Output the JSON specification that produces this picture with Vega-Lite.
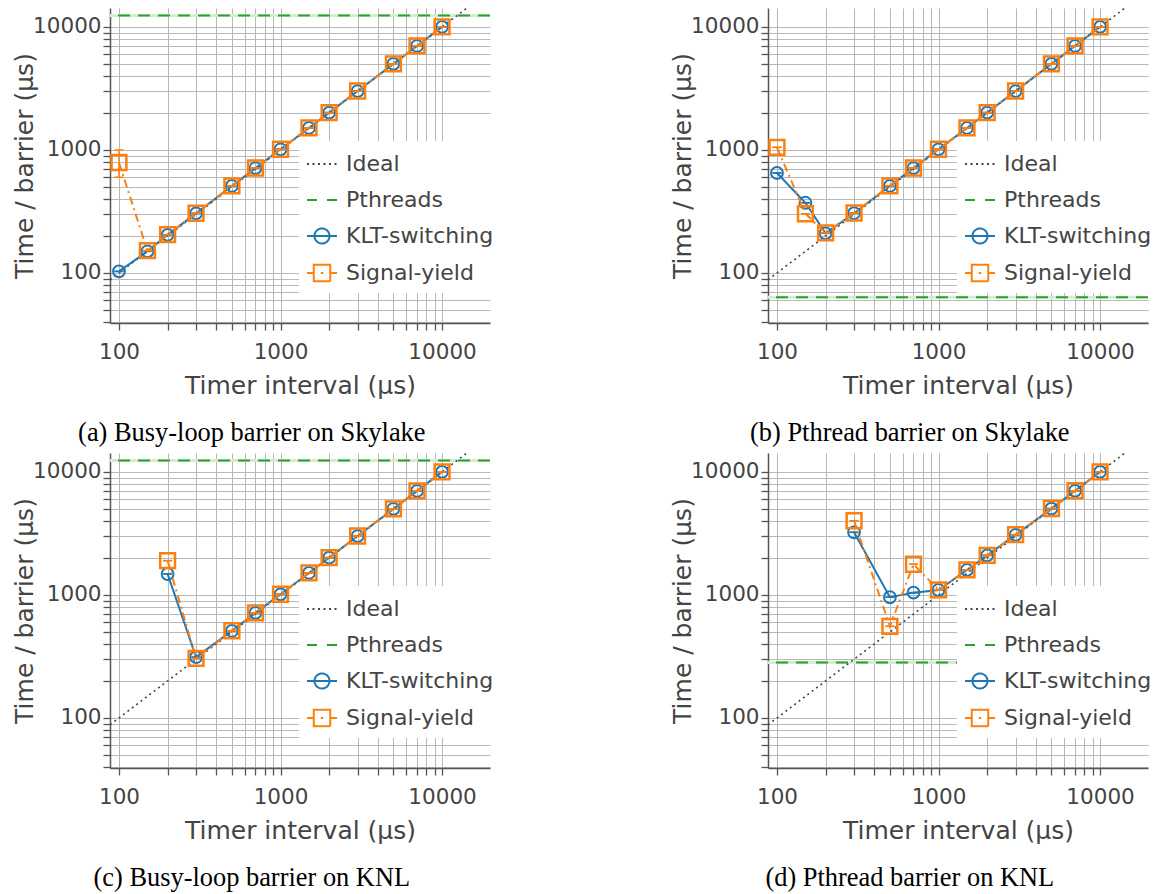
{
"$schema": "https://vega.github.io/schema/vega-lite/v6.json",
"background": "white",
"padding": {"left": 12, "top": 8, "right": 5, "bottom": 5},
"datasets": {
"a": [
{"series":"Ideal","x":88,"y":88},{"series":"Ideal","x":20000,"y":20000},
{"series":"Pthreads","y":12400},
{"series":"KLT-switching","x":100,"y":103,"lo":103,"hi":103},
{"series":"KLT-switching","x":150,"y":150,"lo":150,"hi":150},
{"series":"KLT-switching","x":200,"y":204,"lo":204,"hi":204},
{"series":"KLT-switching","x":300,"y":305,"lo":305,"hi":305},
{"series":"KLT-switching","x":500,"y":510,"lo":510,"hi":510},
{"series":"KLT-switching","x":700,"y":712,"lo":712,"hi":712},
{"series":"KLT-switching","x":1000,"y":1012,"lo":1012,"hi":1012},
{"series":"KLT-switching","x":1500,"y":1510,"lo":1510,"hi":1510},
{"series":"KLT-switching","x":2000,"y":2010,"lo":2010,"hi":2010},
{"series":"KLT-switching","x":3000,"y":3010,"lo":3010,"hi":3010},
{"series":"KLT-switching","x":5000,"y":5010,"lo":5010,"hi":5010},
{"series":"KLT-switching","x":7000,"y":7010,"lo":7010,"hi":7010},
{"series":"KLT-switching","x":10000,"y":10010,"lo":10010,"hi":10010},
{"series":"Signal-yield","x":100,"y":790,"lo":600,"hi":1000},
{"series":"Signal-yield","x":150,"y":152,"lo":152,"hi":152},
{"series":"Signal-yield","x":200,"y":205,"lo":205,"hi":205},
{"series":"Signal-yield","x":300,"y":306,"lo":306,"hi":306},
{"series":"Signal-yield","x":500,"y":511,"lo":511,"hi":511},
{"series":"Signal-yield","x":700,"y":713,"lo":713,"hi":713},
{"series":"Signal-yield","x":1000,"y":1013,"lo":1013,"hi":1013},
{"series":"Signal-yield","x":1500,"y":1512,"lo":1512,"hi":1512},
{"series":"Signal-yield","x":2000,"y":2012,"lo":2012,"hi":2012},
{"series":"Signal-yield","x":3000,"y":3012,"lo":3012,"hi":3012},
{"series":"Signal-yield","x":5000,"y":5012,"lo":5012,"hi":5012},
{"series":"Signal-yield","x":7000,"y":7012,"lo":7012,"hi":7012},
{"series":"Signal-yield","x":10000,"y":10012,"lo":10012,"hi":10012}
],
"b": [
{"series":"Ideal","x":88,"y":88},{"series":"Ideal","x":20000,"y":20000},
{"series":"Pthreads","y":63.5},
{"series":"KLT-switching","x":100,"y":650,"lo":650,"hi":650},
{"series":"KLT-switching","x":150,"y":372,"lo":372,"hi":372},
{"series":"KLT-switching","x":200,"y":210,"lo":210,"hi":210},
{"series":"KLT-switching","x":300,"y":306,"lo":306,"hi":306},
{"series":"KLT-switching","x":500,"y":510,"lo":510,"hi":510},
{"series":"KLT-switching","x":700,"y":712,"lo":712,"hi":712},
{"series":"KLT-switching","x":1000,"y":1012,"lo":1012,"hi":1012},
{"series":"KLT-switching","x":1500,"y":1510,"lo":1510,"hi":1510},
{"series":"KLT-switching","x":2000,"y":2010,"lo":2010,"hi":2010},
{"series":"KLT-switching","x":3000,"y":3010,"lo":3010,"hi":3010},
{"series":"KLT-switching","x":5000,"y":5010,"lo":5010,"hi":5010},
{"series":"KLT-switching","x":7000,"y":7010,"lo":7010,"hi":7010},
{"series":"KLT-switching","x":10000,"y":10010,"lo":10010,"hi":10010},
{"series":"Signal-yield","x":100,"y":1050,"lo":1050,"hi":1050},
{"series":"Signal-yield","x":150,"y":303,"lo":303,"hi":303},
{"series":"Signal-yield","x":200,"y":212,"lo":212,"hi":212},
{"series":"Signal-yield","x":300,"y":307,"lo":307,"hi":307},
{"series":"Signal-yield","x":500,"y":511,"lo":511,"hi":511},
{"series":"Signal-yield","x":700,"y":713,"lo":713,"hi":713},
{"series":"Signal-yield","x":1000,"y":1013,"lo":1013,"hi":1013},
{"series":"Signal-yield","x":1500,"y":1512,"lo":1512,"hi":1512},
{"series":"Signal-yield","x":2000,"y":2012,"lo":2012,"hi":2012},
{"series":"Signal-yield","x":3000,"y":3012,"lo":3012,"hi":3012},
{"series":"Signal-yield","x":5000,"y":5012,"lo":5012,"hi":5012},
{"series":"Signal-yield","x":7000,"y":7012,"lo":7012,"hi":7012},
{"series":"Signal-yield","x":10000,"y":10012,"lo":10012,"hi":10012}
],
"c": [
{"series":"Ideal","x":88,"y":88},{"series":"Ideal","x":20000,"y":20000},
{"series":"Pthreads","y":12400},
{"series":"KLT-switching","x":200,"y":1480,"lo":1480,"hi":1480},
{"series":"KLT-switching","x":300,"y":312,"lo":312,"hi":312},
{"series":"KLT-switching","x":500,"y":510,"lo":510,"hi":510},
{"series":"KLT-switching","x":700,"y":715,"lo":715,"hi":715},
{"series":"KLT-switching","x":1000,"y":1012,"lo":1012,"hi":1012},
{"series":"KLT-switching","x":1500,"y":1510,"lo":1510,"hi":1510},
{"series":"KLT-switching","x":2000,"y":2010,"lo":2010,"hi":2010},
{"series":"KLT-switching","x":3000,"y":3010,"lo":3010,"hi":3010},
{"series":"KLT-switching","x":5000,"y":5010,"lo":5010,"hi":5010},
{"series":"KLT-switching","x":7000,"y":7010,"lo":7010,"hi":7010},
{"series":"KLT-switching","x":10000,"y":10010,"lo":10010,"hi":10010},
{"series":"Signal-yield","x":200,"y":1900,"lo":1900,"hi":1900},
{"series":"Signal-yield","x":300,"y":305,"lo":305,"hi":305},
{"series":"Signal-yield","x":500,"y":512,"lo":512,"hi":512},
{"series":"Signal-yield","x":700,"y":716,"lo":716,"hi":716},
{"series":"Signal-yield","x":1000,"y":1013,"lo":1013,"hi":1013},
{"series":"Signal-yield","x":1500,"y":1512,"lo":1512,"hi":1512},
{"series":"Signal-yield","x":2000,"y":2012,"lo":2012,"hi":2012},
{"series":"Signal-yield","x":3000,"y":3012,"lo":3012,"hi":3012},
{"series":"Signal-yield","x":5000,"y":5012,"lo":5012,"hi":5012},
{"series":"Signal-yield","x":7000,"y":7012,"lo":7012,"hi":7012},
{"series":"Signal-yield","x":10000,"y":10012,"lo":10012,"hi":10012}
],
"d": [
{"series":"Ideal","x":88,"y":88},{"series":"Ideal","x":20000,"y":20000},
{"series":"Pthreads","y":282},
{"series":"KLT-switching","x":300,"y":3230,"lo":3230,"hi":3230},
{"series":"KLT-switching","x":500,"y":958,"lo":958,"hi":958},
{"series":"KLT-switching","x":700,"y":1044,"lo":1044,"hi":1044},
{"series":"KLT-switching","x":1000,"y":1097,"lo":1097,"hi":1097},
{"series":"KLT-switching","x":1500,"y":1595,"lo":1595,"hi":1595},
{"series":"KLT-switching","x":2000,"y":2095,"lo":2095,"hi":2095},
{"series":"KLT-switching","x":3000,"y":3080,"lo":3080,"hi":3080},
{"series":"KLT-switching","x":5000,"y":5030,"lo":5030,"hi":5030},
{"series":"KLT-switching","x":7000,"y":7020,"lo":7020,"hi":7020},
{"series":"KLT-switching","x":10000,"y":10010,"lo":10010,"hi":10010},
{"series":"Signal-yield","x":300,"y":4010,"lo":4010,"hi":4010},
{"series":"Signal-yield","x":500,"y":556,"lo":556,"hi":556},
{"series":"Signal-yield","x":700,"y":1776,"lo":1776,"hi":1776},
{"series":"Signal-yield","x":1000,"y":1100,"lo":1100,"hi":1100},
{"series":"Signal-yield","x":1500,"y":1600,"lo":1600,"hi":1600},
{"series":"Signal-yield","x":2000,"y":2100,"lo":2100,"hi":2100},
{"series":"Signal-yield","x":3000,"y":3090,"lo":3090,"hi":3090},
{"series":"Signal-yield","x":5000,"y":5040,"lo":5040,"hi":5040},
{"series":"Signal-yield","x":7000,"y":7030,"lo":7030,"hi":7030},
{"series":"Signal-yield","x":10000,"y":10020,"lo":10020,"hi":10020}
]
},
"columns": 2,
"spacing": {"row": 130, "column": 278},
"bounds": "flush",
"resolve": {"scale": {"color": "independent"}, "legend": {"color": "independent"}},
"concat": [
{"width":380,"height":315,"data":{"name":"a"},"title":{"text":"(a) Busy-loop barrier on Skylake"},
"encoding":{"color":{"field":"series","type":"nominal","scale":{"domain":["Ideal","Pthreads","KLT-switching","Signal-yield"],"range":["#444444","#2ca02c","#1f77b4","#ff7f0e"]},
"legend":{"title":null,"orient":"none","legendX":189,"legendY":133,"symbolSize":900,
"encode":{"symbols":{"update":{
"shape":[{"test":"datum.value === 'KLT-switching'","value":"M-1,0H1M0.5,0A0.5,0.5,0,1,1,-0.5,0A0.5,0.5,0,1,1,0.5,0"},{"test":"datum.value === 'Signal-yield'","value":"M-1,0H-0.55M0.55,0H1M-0.55,-0.55H0.55V0.55H-0.55ZM-0.08,0H0.08"},{"value":"M-1,0H1"}],
"strokeDash":[{"test":"datum.value === 'Ideal'","value":[2,3.5]},{"test":"datum.value === 'Pthreads'","value":[10,10]},{"value":[1,0]}],
"fill":{"value":"transparent"},"strokeWidth":{"value":2},"opacity":{"value":1}}}}}}},
"layer":[
{"transform":[{"filter":"datum.series === 'Pthreads'"}],"mark":{"type":"rule","strokeWidth":3},"encoding":{"y":{"field":"y","type":"quantitative","scale":{"type":"log","domain":[39.2,14250],"nice":false},"title":"Time / barrier (µs)"},"color":{"value":"#d4ebd4"}}},
{"transform":[{"filter":"datum.series === 'Pthreads'"}],"mark":{"type":"rule","strokeWidth":2,"strokeDash":[12,8]},"encoding":{"y":{"field":"y","type":"quantitative","scale":{"type":"log","domain":[39.2,14250],"nice":false},"title":"Time / barrier (µs)"}}},
{"transform":[{"filter":"datum.series === 'Ideal'"}],"mark":{"type":"line","strokeWidth":1.6,"strokeDash":[2,3.5],"clip":true},"encoding":{
"x":{"field":"x","type":"quantitative","scale":{"type":"log","domain":[88,19800],"nice":false},"title":"Timer interval (µs)","axis":{"values":[100,200,300,400,500,600,700,800,900,1000,2000,3000,4000,5000,6000,7000,8000,9000,10000],"labelExpr":"datum.value == 100 || datum.value == 1000 || datum.value == 10000 ? format(datum.value, 'd') : ''","labelPadding":11,"titlePadding":11}},
"y":{"field":"y","type":"quantitative","scale":{"type":"log","domain":[39.2,14250],"nice":false},"title":"Time / barrier (µs)","axis":{"values":[40,50,60,70,80,90,100,200,300,400,500,600,700,800,900,1000,2000,3000,4000,5000,6000,7000,8000,9000,10000],"labelExpr":"datum.value == 100 || datum.value == 1000 || datum.value == 10000 ? format(datum.value, 'd') : ''","labelPadding":2,"titlePadding":-5}}}},
{"transform":[{"filter":"datum.series === 'KLT-switching'"}],"mark":{"type":"line","strokeWidth":2},"encoding":{"x":{"field":"x","type":"quantitative","scale":{"type":"log","domain":[88,19800],"nice":false},"title":"Timer interval (µs)"},"y":{"field":"y","type":"quantitative","scale":{"type":"log","domain":[39.2,14250],"nice":false},"title":"Time / barrier (µs)"}}},
{"transform":[{"filter":"datum.series === 'KLT-switching'"}],"mark":{"type":"rule","strokeWidth":1.5},"encoding":{"x":{"field":"x","type":"quantitative","scale":{"type":"log","domain":[88,19800],"nice":false},"title":"Timer interval (µs)"},"y":{"field":"lo","type":"quantitative","scale":{"type":"log","domain":[39.2,14250],"nice":false},"title":"Time / barrier (µs)"},"y2":{"field":"hi"}}},
{"transform":[{"filter":"datum.series === 'KLT-switching'"}],"mark":{"type":"point","shape":"stroke","filled":false,"size":81,"strokeWidth":1.5,"opacity":1},"encoding":{"x":{"field":"x","type":"quantitative","scale":{"type":"log","domain":[88,19800],"nice":false},"title":"Timer interval (µs)"},"y":{"field":"lo","type":"quantitative","scale":{"type":"log","domain":[39.2,14250],"nice":false},"title":"Time / barrier (µs)"}}},
{"transform":[{"filter":"datum.series === 'KLT-switching'"}],"mark":{"type":"point","shape":"stroke","filled":false,"size":81,"strokeWidth":1.5,"opacity":1},"encoding":{"x":{"field":"x","type":"quantitative","scale":{"type":"log","domain":[88,19800],"nice":false},"title":"Timer interval (µs)"},"y":{"field":"hi","type":"quantitative","scale":{"type":"log","domain":[39.2,14250],"nice":false},"title":"Time / barrier (µs)"}}},
{"transform":[{"filter":"datum.series === 'KLT-switching'"}],"mark":{"type":"point","shape":"circle","filled":false,"size":140,"strokeWidth":2,"opacity":1},"encoding":{"x":{"field":"x","type":"quantitative","scale":{"type":"log","domain":[88,19800],"nice":false},"title":"Timer interval (µs)"},"y":{"field":"y","type":"quantitative","scale":{"type":"log","domain":[39.2,14250],"nice":false},"title":"Time / barrier (µs)"}}},
{"transform":[{"filter":"datum.series === 'Signal-yield'"}],"mark":{"type":"line","strokeWidth":2,"strokeDash":[8,4,2,4]},"encoding":{"x":{"field":"x","type":"quantitative","scale":{"type":"log","domain":[88,19800],"nice":false},"title":"Timer interval (µs)"},"y":{"field":"y","type":"quantitative","scale":{"type":"log","domain":[39.2,14250],"nice":false},"title":"Time / barrier (µs)"}}},
{"transform":[{"filter":"datum.series === 'Signal-yield'"}],"mark":{"type":"rule","strokeWidth":1.5},"encoding":{"x":{"field":"x","type":"quantitative","scale":{"type":"log","domain":[88,19800],"nice":false},"title":"Timer interval (µs)"},"y":{"field":"lo","type":"quantitative","scale":{"type":"log","domain":[39.2,14250],"nice":false},"title":"Time / barrier (µs)"},"y2":{"field":"hi"}}},
{"transform":[{"filter":"datum.series === 'Signal-yield'"}],"mark":{"type":"point","shape":"stroke","filled":false,"size":81,"strokeWidth":1.5,"opacity":1},"encoding":{"x":{"field":"x","type":"quantitative","scale":{"type":"log","domain":[88,19800],"nice":false},"title":"Timer interval (µs)"},"y":{"field":"lo","type":"quantitative","scale":{"type":"log","domain":[39.2,14250],"nice":false},"title":"Time / barrier (µs)"}}},
{"transform":[{"filter":"datum.series === 'Signal-yield'"}],"mark":{"type":"point","shape":"stroke","filled":false,"size":81,"strokeWidth":1.5,"opacity":1},"encoding":{"x":{"field":"x","type":"quantitative","scale":{"type":"log","domain":[88,19800],"nice":false},"title":"Timer interval (µs)"},"y":{"field":"hi","type":"quantitative","scale":{"type":"log","domain":[39.2,14250],"nice":false},"title":"Time / barrier (µs)"}}},
{"transform":[{"filter":"datum.series === 'Signal-yield'"}],"mark":{"type":"point","shape":"square","filled":false,"size":220,"strokeWidth":2.5,"opacity":1},"encoding":{"x":{"field":"x","type":"quantitative","scale":{"type":"log","domain":[88,19800],"nice":false},"title":"Timer interval (µs)"},"y":{"field":"y","type":"quantitative","scale":{"type":"log","domain":[39.2,14250],"nice":false},"title":"Time / barrier (µs)"}}}
]},
{"width":380,"height":315,"data":{"name":"b"},"title":{"text":"(b) Pthread barrier on Skylake"},
"encoding":{"color":{"field":"series","type":"nominal","scale":{"domain":["Ideal","Pthreads","KLT-switching","Signal-yield"],"range":["#444444","#2ca02c","#1f77b4","#ff7f0e"]},
"legend":{"title":null,"orient":"none","legendX":189,"legendY":133,"symbolSize":900,
"encode":{"symbols":{"update":{
"shape":[{"test":"datum.value === 'KLT-switching'","value":"M-1,0H1M0.5,0A0.5,0.5,0,1,1,-0.5,0A0.5,0.5,0,1,1,0.5,0"},{"test":"datum.value === 'Signal-yield'","value":"M-1,0H-0.55M0.55,0H1M-0.55,-0.55H0.55V0.55H-0.55ZM-0.08,0H0.08"},{"value":"M-1,0H1"}],
"strokeDash":[{"test":"datum.value === 'Ideal'","value":[2,3.5]},{"test":"datum.value === 'Pthreads'","value":[10,10]},{"value":[1,0]}],
"fill":{"value":"transparent"},"strokeWidth":{"value":2},"opacity":{"value":1}}}}}}},
"layer":[
{"transform":[{"filter":"datum.series === 'Pthreads'"}],"mark":{"type":"rule","strokeWidth":3},"encoding":{"y":{"field":"y","type":"quantitative","scale":{"type":"log","domain":[39.2,14250],"nice":false},"title":"Time / barrier (µs)"},"color":{"value":"#d4ebd4"}}},
{"transform":[{"filter":"datum.series === 'Pthreads'"}],"mark":{"type":"rule","strokeWidth":2,"strokeDash":[12,8]},"encoding":{"y":{"field":"y","type":"quantitative","scale":{"type":"log","domain":[39.2,14250],"nice":false},"title":"Time / barrier (µs)"}}},
{"transform":[{"filter":"datum.series === 'Ideal'"}],"mark":{"type":"line","strokeWidth":1.6,"strokeDash":[2,3.5],"clip":true},"encoding":{
"x":{"field":"x","type":"quantitative","scale":{"type":"log","domain":[88,19800],"nice":false},"title":"Timer interval (µs)","axis":{"values":[100,200,300,400,500,600,700,800,900,1000,2000,3000,4000,5000,6000,7000,8000,9000,10000],"labelExpr":"datum.value == 100 || datum.value == 1000 || datum.value == 10000 ? format(datum.value, 'd') : ''","labelPadding":11,"titlePadding":11}},
"y":{"field":"y","type":"quantitative","scale":{"type":"log","domain":[39.2,14250],"nice":false},"title":"Time / barrier (µs)","axis":{"values":[40,50,60,70,80,90,100,200,300,400,500,600,700,800,900,1000,2000,3000,4000,5000,6000,7000,8000,9000,10000],"labelExpr":"datum.value == 100 || datum.value == 1000 || datum.value == 10000 ? format(datum.value, 'd') : ''","labelPadding":2,"titlePadding":-5}}}},
{"transform":[{"filter":"datum.series === 'KLT-switching'"}],"mark":{"type":"line","strokeWidth":2},"encoding":{"x":{"field":"x","type":"quantitative","scale":{"type":"log","domain":[88,19800],"nice":false},"title":"Timer interval (µs)"},"y":{"field":"y","type":"quantitative","scale":{"type":"log","domain":[39.2,14250],"nice":false},"title":"Time / barrier (µs)"}}},
{"transform":[{"filter":"datum.series === 'KLT-switching'"}],"mark":{"type":"rule","strokeWidth":1.5},"encoding":{"x":{"field":"x","type":"quantitative","scale":{"type":"log","domain":[88,19800],"nice":false},"title":"Timer interval (µs)"},"y":{"field":"lo","type":"quantitative","scale":{"type":"log","domain":[39.2,14250],"nice":false},"title":"Time / barrier (µs)"},"y2":{"field":"hi"}}},
{"transform":[{"filter":"datum.series === 'KLT-switching'"}],"mark":{"type":"point","shape":"stroke","filled":false,"size":81,"strokeWidth":1.5,"opacity":1},"encoding":{"x":{"field":"x","type":"quantitative","scale":{"type":"log","domain":[88,19800],"nice":false},"title":"Timer interval (µs)"},"y":{"field":"lo","type":"quantitative","scale":{"type":"log","domain":[39.2,14250],"nice":false},"title":"Time / barrier (µs)"}}},
{"transform":[{"filter":"datum.series === 'KLT-switching'"}],"mark":{"type":"point","shape":"stroke","filled":false,"size":81,"strokeWidth":1.5,"opacity":1},"encoding":{"x":{"field":"x","type":"quantitative","scale":{"type":"log","domain":[88,19800],"nice":false},"title":"Timer interval (µs)"},"y":{"field":"hi","type":"quantitative","scale":{"type":"log","domain":[39.2,14250],"nice":false},"title":"Time / barrier (µs)"}}},
{"transform":[{"filter":"datum.series === 'KLT-switching'"}],"mark":{"type":"point","shape":"circle","filled":false,"size":140,"strokeWidth":2,"opacity":1},"encoding":{"x":{"field":"x","type":"quantitative","scale":{"type":"log","domain":[88,19800],"nice":false},"title":"Timer interval (µs)"},"y":{"field":"y","type":"quantitative","scale":{"type":"log","domain":[39.2,14250],"nice":false},"title":"Time / barrier (µs)"}}},
{"transform":[{"filter":"datum.series === 'Signal-yield'"}],"mark":{"type":"line","strokeWidth":2,"strokeDash":[8,4,2,4]},"encoding":{"x":{"field":"x","type":"quantitative","scale":{"type":"log","domain":[88,19800],"nice":false},"title":"Timer interval (µs)"},"y":{"field":"y","type":"quantitative","scale":{"type":"log","domain":[39.2,14250],"nice":false},"title":"Time / barrier (µs)"}}},
{"transform":[{"filter":"datum.series === 'Signal-yield'"}],"mark":{"type":"rule","strokeWidth":1.5},"encoding":{"x":{"field":"x","type":"quantitative","scale":{"type":"log","domain":[88,19800],"nice":false},"title":"Timer interval (µs)"},"y":{"field":"lo","type":"quantitative","scale":{"type":"log","domain":[39.2,14250],"nice":false},"title":"Time / barrier (µs)"},"y2":{"field":"hi"}}},
{"transform":[{"filter":"datum.series === 'Signal-yield'"}],"mark":{"type":"point","shape":"stroke","filled":false,"size":81,"strokeWidth":1.5,"opacity":1},"encoding":{"x":{"field":"x","type":"quantitative","scale":{"type":"log","domain":[88,19800],"nice":false},"title":"Timer interval (µs)"},"y":{"field":"lo","type":"quantitative","scale":{"type":"log","domain":[39.2,14250],"nice":false},"title":"Time / barrier (µs)"}}},
{"transform":[{"filter":"datum.series === 'Signal-yield'"}],"mark":{"type":"point","shape":"stroke","filled":false,"size":81,"strokeWidth":1.5,"opacity":1},"encoding":{"x":{"field":"x","type":"quantitative","scale":{"type":"log","domain":[88,19800],"nice":false},"title":"Timer interval (µs)"},"y":{"field":"hi","type":"quantitative","scale":{"type":"log","domain":[39.2,14250],"nice":false},"title":"Time / barrier (µs)"}}},
{"transform":[{"filter":"datum.series === 'Signal-yield'"}],"mark":{"type":"point","shape":"square","filled":false,"size":220,"strokeWidth":2.5,"opacity":1},"encoding":{"x":{"field":"x","type":"quantitative","scale":{"type":"log","domain":[88,19800],"nice":false},"title":"Timer interval (µs)"},"y":{"field":"y","type":"quantitative","scale":{"type":"log","domain":[39.2,14250],"nice":false},"title":"Time / barrier (µs)"}}}
]},
{"width":380,"height":315,"data":{"name":"c"},"title":{"text":"(c) Busy-loop barrier on KNL"},
"encoding":{"color":{"field":"series","type":"nominal","scale":{"domain":["Ideal","Pthreads","KLT-switching","Signal-yield"],"range":["#444444","#2ca02c","#1f77b4","#ff7f0e"]},
"legend":{"title":null,"orient":"none","legendX":189,"legendY":133,"symbolSize":900,
"encode":{"symbols":{"update":{
"shape":[{"test":"datum.value === 'KLT-switching'","value":"M-1,0H1M0.5,0A0.5,0.5,0,1,1,-0.5,0A0.5,0.5,0,1,1,0.5,0"},{"test":"datum.value === 'Signal-yield'","value":"M-1,0H-0.55M0.55,0H1M-0.55,-0.55H0.55V0.55H-0.55ZM-0.08,0H0.08"},{"value":"M-1,0H1"}],
"strokeDash":[{"test":"datum.value === 'Ideal'","value":[2,3.5]},{"test":"datum.value === 'Pthreads'","value":[10,10]},{"value":[1,0]}],
"fill":{"value":"transparent"},"strokeWidth":{"value":2},"opacity":{"value":1}}}}}}},
"layer":[
{"transform":[{"filter":"datum.series === 'Pthreads'"}],"mark":{"type":"rule","strokeWidth":3},"encoding":{"y":{"field":"y","type":"quantitative","scale":{"type":"log","domain":[39.2,14250],"nice":false},"title":"Time / barrier (µs)"},"color":{"value":"#d4ebd4"}}},
{"transform":[{"filter":"datum.series === 'Pthreads'"}],"mark":{"type":"rule","strokeWidth":2,"strokeDash":[12,8]},"encoding":{"y":{"field":"y","type":"quantitative","scale":{"type":"log","domain":[39.2,14250],"nice":false},"title":"Time / barrier (µs)"}}},
{"transform":[{"filter":"datum.series === 'Ideal'"}],"mark":{"type":"line","strokeWidth":1.6,"strokeDash":[2,3.5],"clip":true},"encoding":{
"x":{"field":"x","type":"quantitative","scale":{"type":"log","domain":[88,19800],"nice":false},"title":"Timer interval (µs)","axis":{"values":[100,200,300,400,500,600,700,800,900,1000,2000,3000,4000,5000,6000,7000,8000,9000,10000],"labelExpr":"datum.value == 100 || datum.value == 1000 || datum.value == 10000 ? format(datum.value, 'd') : ''","labelPadding":11,"titlePadding":11}},
"y":{"field":"y","type":"quantitative","scale":{"type":"log","domain":[39.2,14250],"nice":false},"title":"Time / barrier (µs)","axis":{"values":[40,50,60,70,80,90,100,200,300,400,500,600,700,800,900,1000,2000,3000,4000,5000,6000,7000,8000,9000,10000],"labelExpr":"datum.value == 100 || datum.value == 1000 || datum.value == 10000 ? format(datum.value, 'd') : ''","labelPadding":2,"titlePadding":-5}}}},
{"transform":[{"filter":"datum.series === 'KLT-switching'"}],"mark":{"type":"line","strokeWidth":2},"encoding":{"x":{"field":"x","type":"quantitative","scale":{"type":"log","domain":[88,19800],"nice":false},"title":"Timer interval (µs)"},"y":{"field":"y","type":"quantitative","scale":{"type":"log","domain":[39.2,14250],"nice":false},"title":"Time / barrier (µs)"}}},
{"transform":[{"filter":"datum.series === 'KLT-switching'"}],"mark":{"type":"rule","strokeWidth":1.5},"encoding":{"x":{"field":"x","type":"quantitative","scale":{"type":"log","domain":[88,19800],"nice":false},"title":"Timer interval (µs)"},"y":{"field":"lo","type":"quantitative","scale":{"type":"log","domain":[39.2,14250],"nice":false},"title":"Time / barrier (µs)"},"y2":{"field":"hi"}}},
{"transform":[{"filter":"datum.series === 'KLT-switching'"}],"mark":{"type":"point","shape":"stroke","filled":false,"size":81,"strokeWidth":1.5,"opacity":1},"encoding":{"x":{"field":"x","type":"quantitative","scale":{"type":"log","domain":[88,19800],"nice":false},"title":"Timer interval (µs)"},"y":{"field":"lo","type":"quantitative","scale":{"type":"log","domain":[39.2,14250],"nice":false},"title":"Time / barrier (µs)"}}},
{"transform":[{"filter":"datum.series === 'KLT-switching'"}],"mark":{"type":"point","shape":"stroke","filled":false,"size":81,"strokeWidth":1.5,"opacity":1},"encoding":{"x":{"field":"x","type":"quantitative","scale":{"type":"log","domain":[88,19800],"nice":false},"title":"Timer interval (µs)"},"y":{"field":"hi","type":"quantitative","scale":{"type":"log","domain":[39.2,14250],"nice":false},"title":"Time / barrier (µs)"}}},
{"transform":[{"filter":"datum.series === 'KLT-switching'"}],"mark":{"type":"point","shape":"circle","filled":false,"size":140,"strokeWidth":2,"opacity":1},"encoding":{"x":{"field":"x","type":"quantitative","scale":{"type":"log","domain":[88,19800],"nice":false},"title":"Timer interval (µs)"},"y":{"field":"y","type":"quantitative","scale":{"type":"log","domain":[39.2,14250],"nice":false},"title":"Time / barrier (µs)"}}},
{"transform":[{"filter":"datum.series === 'Signal-yield'"}],"mark":{"type":"line","strokeWidth":2,"strokeDash":[8,4,2,4]},"encoding":{"x":{"field":"x","type":"quantitative","scale":{"type":"log","domain":[88,19800],"nice":false},"title":"Timer interval (µs)"},"y":{"field":"y","type":"quantitative","scale":{"type":"log","domain":[39.2,14250],"nice":false},"title":"Time / barrier (µs)"}}},
{"transform":[{"filter":"datum.series === 'Signal-yield'"}],"mark":{"type":"rule","strokeWidth":1.5},"encoding":{"x":{"field":"x","type":"quantitative","scale":{"type":"log","domain":[88,19800],"nice":false},"title":"Timer interval (µs)"},"y":{"field":"lo","type":"quantitative","scale":{"type":"log","domain":[39.2,14250],"nice":false},"title":"Time / barrier (µs)"},"y2":{"field":"hi"}}},
{"transform":[{"filter":"datum.series === 'Signal-yield'"}],"mark":{"type":"point","shape":"stroke","filled":false,"size":81,"strokeWidth":1.5,"opacity":1},"encoding":{"x":{"field":"x","type":"quantitative","scale":{"type":"log","domain":[88,19800],"nice":false},"title":"Timer interval (µs)"},"y":{"field":"lo","type":"quantitative","scale":{"type":"log","domain":[39.2,14250],"nice":false},"title":"Time / barrier (µs)"}}},
{"transform":[{"filter":"datum.series === 'Signal-yield'"}],"mark":{"type":"point","shape":"stroke","filled":false,"size":81,"strokeWidth":1.5,"opacity":1},"encoding":{"x":{"field":"x","type":"quantitative","scale":{"type":"log","domain":[88,19800],"nice":false},"title":"Timer interval (µs)"},"y":{"field":"hi","type":"quantitative","scale":{"type":"log","domain":[39.2,14250],"nice":false},"title":"Time / barrier (µs)"}}},
{"transform":[{"filter":"datum.series === 'Signal-yield'"}],"mark":{"type":"point","shape":"square","filled":false,"size":220,"strokeWidth":2.5,"opacity":1},"encoding":{"x":{"field":"x","type":"quantitative","scale":{"type":"log","domain":[88,19800],"nice":false},"title":"Timer interval (µs)"},"y":{"field":"y","type":"quantitative","scale":{"type":"log","domain":[39.2,14250],"nice":false},"title":"Time / barrier (µs)"}}}
]},
{"width":380,"height":315,"data":{"name":"d"},"title":{"text":"(d) Pthread barrier on KNL"},
"encoding":{"color":{"field":"series","type":"nominal","scale":{"domain":["Ideal","Pthreads","KLT-switching","Signal-yield"],"range":["#444444","#2ca02c","#1f77b4","#ff7f0e"]},
"legend":{"title":null,"orient":"none","legendX":189,"legendY":133,"symbolSize":900,
"encode":{"symbols":{"update":{
"shape":[{"test":"datum.value === 'KLT-switching'","value":"M-1,0H1M0.5,0A0.5,0.5,0,1,1,-0.5,0A0.5,0.5,0,1,1,0.5,0"},{"test":"datum.value === 'Signal-yield'","value":"M-1,0H-0.55M0.55,0H1M-0.55,-0.55H0.55V0.55H-0.55ZM-0.08,0H0.08"},{"value":"M-1,0H1"}],
"strokeDash":[{"test":"datum.value === 'Ideal'","value":[2,3.5]},{"test":"datum.value === 'Pthreads'","value":[10,10]},{"value":[1,0]}],
"fill":{"value":"transparent"},"strokeWidth":{"value":2},"opacity":{"value":1}}}}}}},
"layer":[
{"transform":[{"filter":"datum.series === 'Pthreads'"}],"mark":{"type":"rule","strokeWidth":3},"encoding":{"y":{"field":"y","type":"quantitative","scale":{"type":"log","domain":[39.2,14250],"nice":false},"title":"Time / barrier (µs)"},"color":{"value":"#d4ebd4"}}},
{"transform":[{"filter":"datum.series === 'Pthreads'"}],"mark":{"type":"rule","strokeWidth":2,"strokeDash":[12,8]},"encoding":{"y":{"field":"y","type":"quantitative","scale":{"type":"log","domain":[39.2,14250],"nice":false},"title":"Time / barrier (µs)"}}},
{"transform":[{"filter":"datum.series === 'Ideal'"}],"mark":{"type":"line","strokeWidth":1.6,"strokeDash":[2,3.5],"clip":true},"encoding":{
"x":{"field":"x","type":"quantitative","scale":{"type":"log","domain":[88,19800],"nice":false},"title":"Timer interval (µs)","axis":{"values":[100,200,300,400,500,600,700,800,900,1000,2000,3000,4000,5000,6000,7000,8000,9000,10000],"labelExpr":"datum.value == 100 || datum.value == 1000 || datum.value == 10000 ? format(datum.value, 'd') : ''","labelPadding":11,"titlePadding":11}},
"y":{"field":"y","type":"quantitative","scale":{"type":"log","domain":[39.2,14250],"nice":false},"title":"Time / barrier (µs)","axis":{"values":[40,50,60,70,80,90,100,200,300,400,500,600,700,800,900,1000,2000,3000,4000,5000,6000,7000,8000,9000,10000],"labelExpr":"datum.value == 100 || datum.value == 1000 || datum.value == 10000 ? format(datum.value, 'd') : ''","labelPadding":2,"titlePadding":-5}}}},
{"transform":[{"filter":"datum.series === 'KLT-switching'"}],"mark":{"type":"line","strokeWidth":2},"encoding":{"x":{"field":"x","type":"quantitative","scale":{"type":"log","domain":[88,19800],"nice":false},"title":"Timer interval (µs)"},"y":{"field":"y","type":"quantitative","scale":{"type":"log","domain":[39.2,14250],"nice":false},"title":"Time / barrier (µs)"}}},
{"transform":[{"filter":"datum.series === 'KLT-switching'"}],"mark":{"type":"rule","strokeWidth":1.5},"encoding":{"x":{"field":"x","type":"quantitative","scale":{"type":"log","domain":[88,19800],"nice":false},"title":"Timer interval (µs)"},"y":{"field":"lo","type":"quantitative","scale":{"type":"log","domain":[39.2,14250],"nice":false},"title":"Time / barrier (µs)"},"y2":{"field":"hi"}}},
{"transform":[{"filter":"datum.series === 'KLT-switching'"}],"mark":{"type":"point","shape":"stroke","filled":false,"size":81,"strokeWidth":1.5,"opacity":1},"encoding":{"x":{"field":"x","type":"quantitative","scale":{"type":"log","domain":[88,19800],"nice":false},"title":"Timer interval (µs)"},"y":{"field":"lo","type":"quantitative","scale":{"type":"log","domain":[39.2,14250],"nice":false},"title":"Time / barrier (µs)"}}},
{"transform":[{"filter":"datum.series === 'KLT-switching'"}],"mark":{"type":"point","shape":"stroke","filled":false,"size":81,"strokeWidth":1.5,"opacity":1},"encoding":{"x":{"field":"x","type":"quantitative","scale":{"type":"log","domain":[88,19800],"nice":false},"title":"Timer interval (µs)"},"y":{"field":"hi","type":"quantitative","scale":{"type":"log","domain":[39.2,14250],"nice":false},"title":"Time / barrier (µs)"}}},
{"transform":[{"filter":"datum.series === 'KLT-switching'"}],"mark":{"type":"point","shape":"circle","filled":false,"size":140,"strokeWidth":2,"opacity":1},"encoding":{"x":{"field":"x","type":"quantitative","scale":{"type":"log","domain":[88,19800],"nice":false},"title":"Timer interval (µs)"},"y":{"field":"y","type":"quantitative","scale":{"type":"log","domain":[39.2,14250],"nice":false},"title":"Time / barrier (µs)"}}},
{"transform":[{"filter":"datum.series === 'Signal-yield'"}],"mark":{"type":"line","strokeWidth":2,"strokeDash":[8,4,2,4]},"encoding":{"x":{"field":"x","type":"quantitative","scale":{"type":"log","domain":[88,19800],"nice":false},"title":"Timer interval (µs)"},"y":{"field":"y","type":"quantitative","scale":{"type":"log","domain":[39.2,14250],"nice":false},"title":"Time / barrier (µs)"}}},
{"transform":[{"filter":"datum.series === 'Signal-yield'"}],"mark":{"type":"rule","strokeWidth":1.5},"encoding":{"x":{"field":"x","type":"quantitative","scale":{"type":"log","domain":[88,19800],"nice":false},"title":"Timer interval (µs)"},"y":{"field":"lo","type":"quantitative","scale":{"type":"log","domain":[39.2,14250],"nice":false},"title":"Time / barrier (µs)"},"y2":{"field":"hi"}}},
{"transform":[{"filter":"datum.series === 'Signal-yield'"}],"mark":{"type":"point","shape":"stroke","filled":false,"size":81,"strokeWidth":1.5,"opacity":1},"encoding":{"x":{"field":"x","type":"quantitative","scale":{"type":"log","domain":[88,19800],"nice":false},"title":"Timer interval (µs)"},"y":{"field":"lo","type":"quantitative","scale":{"type":"log","domain":[39.2,14250],"nice":false},"title":"Time / barrier (µs)"}}},
{"transform":[{"filter":"datum.series === 'Signal-yield'"}],"mark":{"type":"point","shape":"stroke","filled":false,"size":81,"strokeWidth":1.5,"opacity":1},"encoding":{"x":{"field":"x","type":"quantitative","scale":{"type":"log","domain":[88,19800],"nice":false},"title":"Timer interval (µs)"},"y":{"field":"hi","type":"quantitative","scale":{"type":"log","domain":[39.2,14250],"nice":false},"title":"Time / barrier (µs)"}}},
{"transform":[{"filter":"datum.series === 'Signal-yield'"}],"mark":{"type":"point","shape":"square","filled":false,"size":220,"strokeWidth":2.5,"opacity":1},"encoding":{"x":{"field":"x","type":"quantitative","scale":{"type":"log","domain":[88,19800],"nice":false},"title":"Timer interval (µs)"},"y":{"field":"y","type":"quantitative","scale":{"type":"log","domain":[39.2,14250],"nice":false},"title":"Time / barrier (µs)"}}}
]}
],
"config": {
"view": {"stroke": null},
"font": "DejaVu Sans",
"axis": {"labelFont": "DejaVu Sans", "labelFontSize": 21.5, "labelColor": "#444444", "titleFont": "DejaVu Sans", "titleFontSize": 25, "titleFontWeight": "normal", "titleColor": "#444444", "tickColor": "#555555", "tickSize": 7, "tickWidth": 1.3, "domainColor": "#555555", "domainWidth": 1.5, "grid": true, "gridColor": "#b8b8b8", "gridWidth": 1, "labelOverlap": false},
"legend": {"fillColor": "white", "padding": 7, "labelFont": "DejaVu Sans", "labelFontSize": 22, "labelColor": "#444444", "labelOffset": 8, "rowPadding": 9, "symbolStrokeWidth": 2},
"title": {"font": "Liberation Serif", "fontSize": 26.4, "fontWeight": "normal", "color": "black", "orient": "bottom", "anchor": "middle", "frame": "bounds", "offset": 21, "dx": -5}
}
}
